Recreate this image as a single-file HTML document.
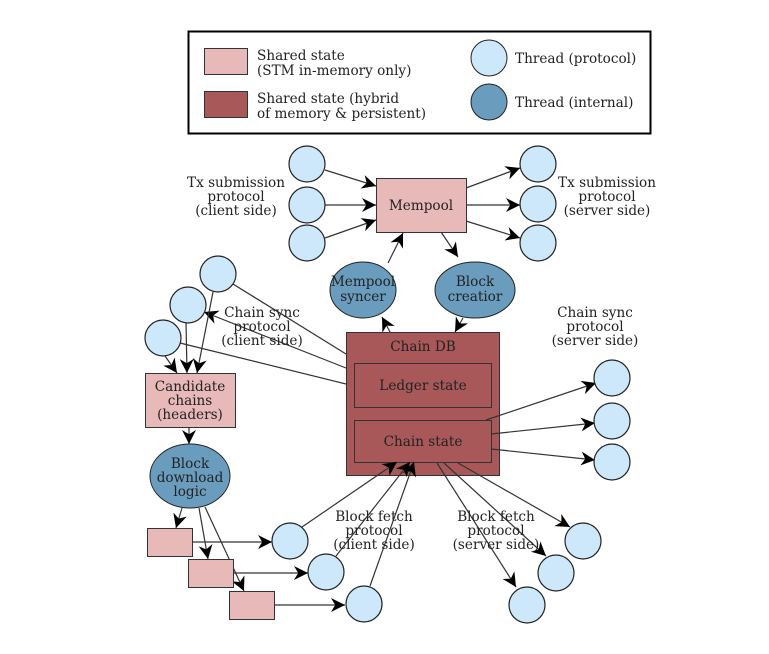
<!DOCTYPE html>
<html><head><style>
html,body{margin:0;padding:0;background:#fff;}
svg text{font-family:"DejaVu Serif","Liberation Serif",serif;font-size:13.6px;fill:#222;}
</style></head><body>
<svg width="769" height="649" viewBox="0 0 769 649" xmlns="http://www.w3.org/2000/svg">
<defs>
<marker id="a" viewBox="0 0 10 10" refX="10" refY="5" markerWidth="14" markerHeight="14" markerUnits="userSpaceOnUse" orient="auto">
<path d="M0,0 L10,5 L0,10 L3,5 z" fill="#000"/>
</marker>
</defs>
<rect x="0" y="0" width="769" height="649" fill="#fff"/>
<rect x="188.5" y="31.5" width="462" height="102" fill="#fff" stroke="#000" stroke-width="2"/>
<rect x="204.5" y="48.5" width="43" height="26" fill="#e8b9b9" stroke="#333"/>
<rect x="204.5" y="91.5" width="43" height="26" fill="#a85858" stroke="#333"/>
<text x="257" y="60">Shared state</text>
<text x="257" y="75">(STM in-memory only)</text>
<text x="257" y="103">Shared state (hybrid</text>
<text x="257" y="118">of memory &amp; persistent)</text>
<circle cx="489" cy="58" r="18" fill="#cde8fa" stroke="#222"/>
<circle cx="489" cy="102" r="18" fill="#6a9dbd" stroke="#222"/>
<text x="515" y="63">Thread (protocol)</text>
<text x="515" y="107">Thread (internal)</text>

<rect x="346.5" y="332.5" width="153" height="143" fill="#a85858" stroke="#333"/>
<rect x="354.5" y="363.5" width="137" height="44" fill="#a85858" stroke="#333"/>
<rect x="354.5" y="420.5" width="137" height="42" fill="#a85858" stroke="#333"/>

<g stroke="#333" stroke-width="1.2" fill="none">
<line x1="325" y1="170" x2="376" y2="186" marker-end="url(#a)"/>
<line x1="325" y1="205" x2="376" y2="205" marker-end="url(#a)"/>
<line x1="325" y1="238" x2="376" y2="220" marker-end="url(#a)"/>
<line x1="466" y1="188" x2="520" y2="168" marker-end="url(#a)"/>
<line x1="466" y1="205" x2="520" y2="205" marker-end="url(#a)"/>
<line x1="466" y1="221" x2="520" y2="238" marker-end="url(#a)"/>
<line x1="388" y1="263" x2="403" y2="233" marker-end="url(#a)"/>
<line x1="441" y1="232" x2="458" y2="257" marker-end="url(#a)"/>
<line x1="390" y1="332" x2="382" y2="317" marker-end="url(#a)"/>
<line x1="463" y1="318" x2="455" y2="332" marker-end="url(#a)"/>
<line x1="346" y1="354" x2="233" y2="284"/>
<line x1="346" y1="368" x2="204" y2="312" marker-end="url(#a)"/>
<line x1="346" y1="384" x2="180" y2="343"/>
<line x1="165" y1="356" x2="177" y2="373" marker-end="url(#a)"/>
<line x1="186" y1="322" x2="187" y2="373" marker-end="url(#a)"/>
<line x1="213" y1="292" x2="197" y2="373" marker-end="url(#a)"/>
<line x1="189" y1="427" x2="189" y2="444" marker-end="url(#a)"/>
<line x1="182" y1="508" x2="176" y2="528" marker-end="url(#a)"/>
<line x1="199" y1="508" x2="208" y2="559" marker-end="url(#a)"/>
<line x1="205" y1="507" x2="244" y2="591" marker-end="url(#a)"/>
<line x1="192" y1="542" x2="272" y2="542" marker-end="url(#a)"/>
<line x1="234" y1="573" x2="308" y2="573" marker-end="url(#a)"/>
<line x1="275" y1="605" x2="345" y2="605" marker-end="url(#a)"/>
<line x1="302" y1="527" x2="397" y2="462" marker-end="url(#a)"/>
<line x1="336" y1="556" x2="410" y2="462" marker-end="url(#a)"/>
<line x1="370" y1="586" x2="414" y2="462" marker-end="url(#a)"/>
<line x1="437" y1="463" x2="516" y2="587" marker-end="url(#a)"/>
<line x1="444" y1="463" x2="546" y2="556" marker-end="url(#a)"/>
<line x1="458" y1="463" x2="570" y2="527" marker-end="url(#a)"/>
<line x1="486" y1="420" x2="596" y2="383" marker-end="url(#a)"/>
<line x1="491" y1="434" x2="595" y2="423" marker-end="url(#a)"/>
<line x1="491" y1="449" x2="595" y2="460" marker-end="url(#a)"/>
</g>

<g fill="#cde8fa" stroke="#222" stroke-width="1.2">
<circle cx="307" cy="164" r="18"/><circle cx="307" cy="205" r="18"/><circle cx="307" cy="243" r="18"/>
<circle cx="538" cy="164" r="18"/><circle cx="538" cy="204" r="18"/><circle cx="538" cy="243" r="18"/>
<circle cx="218" cy="274" r="18"/><circle cx="188" cy="305" r="18"/><circle cx="163" cy="338" r="18"/>
<circle cx="290" cy="541" r="18"/><circle cx="326" cy="572" r="18"/><circle cx="364" cy="604" r="18"/>
<circle cx="583" cy="541" r="18"/><circle cx="556" cy="573" r="18"/><circle cx="527" cy="605" r="18"/>
<circle cx="612" cy="378" r="18"/><circle cx="612" cy="421" r="18"/><circle cx="612" cy="462" r="18"/>
</g>

<rect x="376.5" y="178.5" width="90" height="54" fill="#e8b9b9" stroke="#333"/>
<text x="421" y="210" text-anchor="middle">Mempool</text>
<ellipse cx="363" cy="290" rx="33" ry="28" fill="#6a9dbd" stroke="#222"/>
<text x="363" y="286" text-anchor="middle">Mempool</text>
<text x="363" y="301" text-anchor="middle">syncer</text>
<ellipse cx="475" cy="290" rx="40" ry="28" fill="#6a9dbd" stroke="#222"/>
<text x="475" y="286" text-anchor="middle">Block</text>
<text x="475" y="301" text-anchor="middle">creatior</text>

<text x="423" y="351" text-anchor="middle">Chain DB</text>
<text x="423" y="390" text-anchor="middle">Ledger state</text>
<text x="423" y="446" text-anchor="middle">Chain state</text>

<rect x="145.5" y="373.5" width="90" height="54" fill="#e8b9b9" stroke="#333"/>
<text x="190" y="391" text-anchor="middle">Candidate</text>
<text x="190" y="405" text-anchor="middle">chains</text>
<text x="190" y="419" text-anchor="middle">(headers)</text>
<ellipse cx="190" cy="476" rx="40" ry="32" fill="#6a9dbd" stroke="#222"/>
<text x="190" y="468" text-anchor="middle">Block</text>
<text x="190" y="482" text-anchor="middle">download</text>
<text x="190" y="496" text-anchor="middle">logic</text>

<g fill="#e8b9b9" stroke="#333">
<rect x="147.5" y="528.5" width="45" height="28"/>
<rect x="188.5" y="559.5" width="45" height="28"/>
<rect x="229.5" y="591.5" width="45" height="28"/>
</g>

<g text-anchor="middle">
<text x="236" y="187">Tx submission</text><text x="236" y="201">protocol</text><text x="236" y="215">(client side)</text>
<text x="607" y="187">Tx submission</text><text x="607" y="201">protocol</text><text x="607" y="215">(server side)</text>
<text x="262" y="317">Chain sync</text><text x="262" y="331">protocol</text><text x="262" y="345">(client side)</text>
<text x="595" y="317">Chain sync</text><text x="595" y="331">protocol</text><text x="595" y="345">(server side)</text>
<text x="374" y="521">Block fetch</text><text x="374" y="535">protocol</text><text x="374" y="549">(client side)</text>
<text x="496" y="521">Block fetch</text><text x="496" y="535">protocol</text><text x="496" y="549">(server side)</text>
</g>
</svg>
</body></html>
